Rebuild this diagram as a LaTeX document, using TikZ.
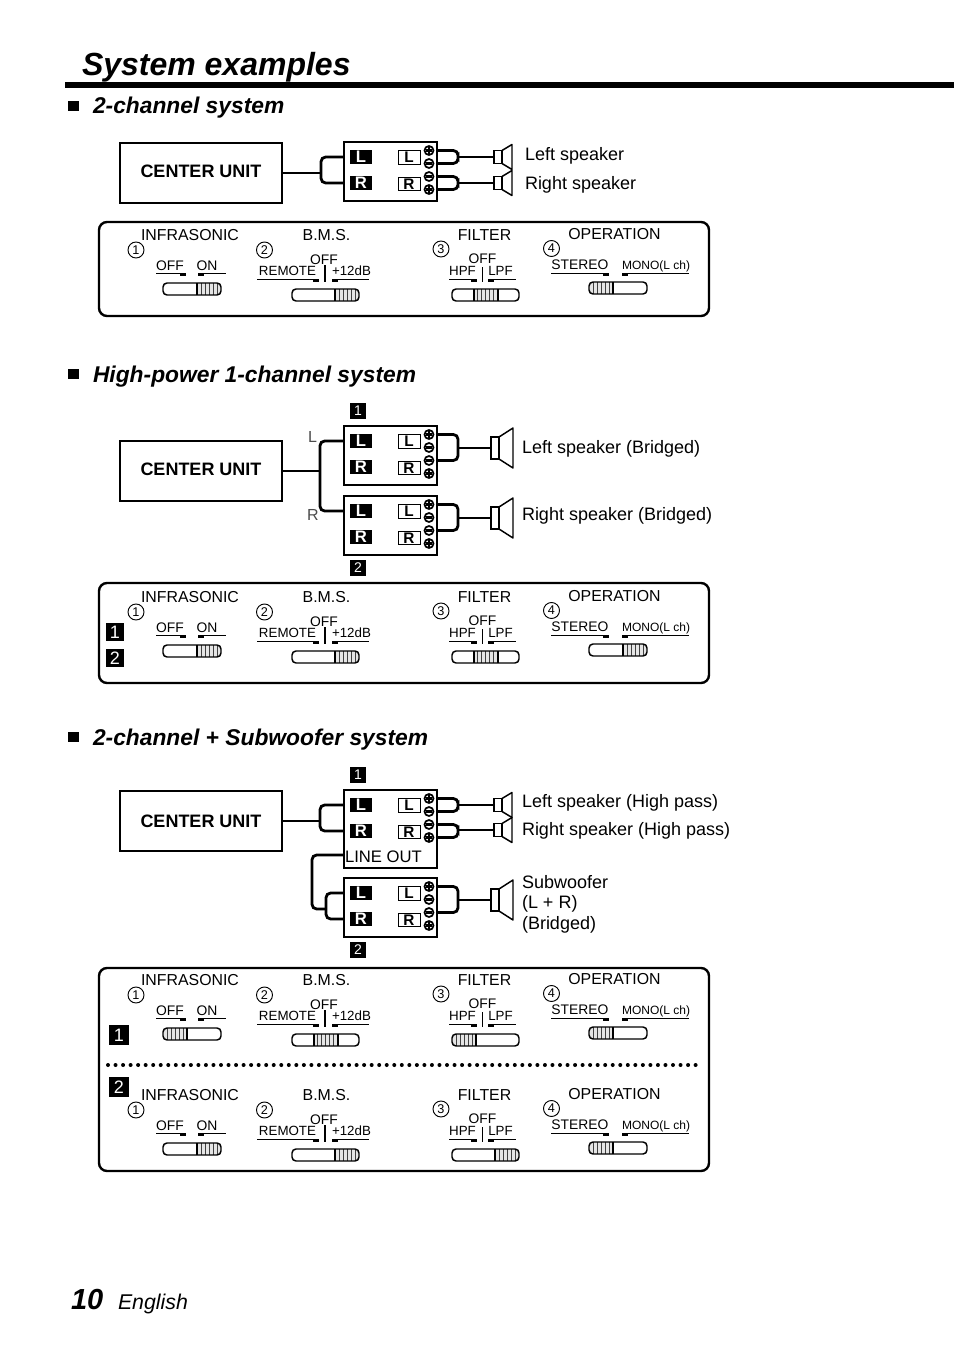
\documentclass[tikz,border=0pt]{standalone}
\usepackage{fontspec}
\setmainfont{Liberation Sans}

\tikzset{
  every node/.style={inner sep=0pt,outer sep=0pt},
  title/.style={anchor=base west,font=\bfseries\itshape\fontsize{24}{28}\selectfont},
  heading/.style={anchor=base west,font=\bfseries\itshape\fontsize{17.1}{20}\selectfont},
  spklabel/.style={anchor=base west,font=\fontsize{13.5}{15.4}\selectfont},
  unitbox/.style={draw,line width=1pt,minimum width=162*.75pt,minimum height=60*.75pt,font=\bfseries\fontsize{13.5}{16}\selectfont},
  ampbody/.style={draw,line width=1.4pt,anchor=north west,minimum width=93*.75pt},
  chanblack/.style={fill=black,text=white,minimum width=22*.75pt,minimum height=14*.75pt,font=\bfseries\fontsize{12.5}{13}\selectfont},
  chanwhite/.style={draw,line width=.7pt,minimum width=22*.75pt,minimum height=13.5*.75pt,font=\bfseries\fontsize{11.5}{12}\selectfont},
  term/.style={circle,draw,line width=1.3pt,minimum size=9*.75pt},
  badge/.style={fill=black,text=white,minimum size=16*.75pt,font=\fontsize{10.5}{11}\selectfont},
  bigbadge/.style={badge,minimum size=18*.75pt,font=\fontsize{13.5}{14}\selectfont},
  wire/.style={line width=2.1pt,rounded corners=3.5pt},
  spkbox/.style={draw,line width=1.1pt,minimum width=8*.75pt},
  panel/.style={draw,line width=1.8pt,rounded corners=6pt},
  pnlbig/.style={anchor=base,font=\fontsize{11.9}{13}\selectfont},
  pnlmid/.style={anchor=base,font=\fontsize{10.4}{12}\selectfont},
  pnlsmall/.style={anchor=base,font=\fontsize{10}{12}\selectfont},
  circnum/.style={circle,draw,line width=.7pt,minimum size=16*.75pt,font=\fontsize{9.5}{10}\selectfont},
  swbody/.style={draw,line width=1.1pt,rounded corners=3pt}
}

\newcommand{\ampunit}[3]{
  \node[ampbody,minimum height=#3*.75pt] (#1) at (344,#2) {};
  \node[chanblack] (#1bL) at (361,#2+15) {L};
  \node[chanblack] (#1bR) at (361,#2+41) {R};
  \node[chanwhite] (#1wL) at (409,#2+15.5) {L};
  \node[chanwhite] (#1wR) at (409,#2+42) {R};
  \node[term] (#1t1) at (429,#2+8.5) {};
  \node[term] (#1t2) at (429,#2+21.5) {};
  \node[term] (#1t3) at (429,#2+34.5) {};
  \node[term] (#1t4) at (429,#2+47.5) {};
  \foreach \t in {1,2,3,4}
    \draw[line width=1.8pt] ([xshift=-2.6pt]#1t\t.center) -- ([xshift=2.6pt]#1t\t.center);
  \foreach \t in {1,4}
    \draw[line width=1.8pt] ([yshift=-2.6pt]#1t\t.center) -- ([yshift=2.6pt]#1t\t.center);
}

\newcommand{\spkr}[6]{
  \node[spkbox,anchor=west,minimum height=#4*.75pt] (#1) at (#2,#3) {};
  \draw[line width=1.1pt,line join=round] (#1.north east) -- ++(#5,-#6) -- ++(0,#4+2*#6) -- (#1.south east);
}

\newcommand{\slideswitch}[4]{
  \pgfmathsetmacro{\hx}{#1+(#2-#1-24)*#4/2}
  \begin{scope}
    \clip[rounded corners=3pt] (#1,#3) rectangle (#2,#3+12);
    \fill[black!10] (\hx,#3) rectangle (\hx+24,#3+12);
    \foreach \i in {4,8,...,20}
      \draw[line width=.55pt,black!75] (\hx+\i,#3) -- (\hx+\i,#3+12);
    \ifnum#4<2 \draw[line width=1.5pt] (\hx+24,#3) -- (\hx+24,#3+12); \fi
    \ifnum#4>0 \draw[line width=1.5pt] (\hx,#3) -- (\hx,#3+12); \fi
  \end{scope}
  \draw[swbody] (#1,#3) rectangle (#2,#3+12);
}

\newcommand{\ctlpanel}[6]{
  \begin{scope}[yshift=-#2*.75pt]
    \node[pnlbig] (#1infra) at (190,240) {INFRASONIC};
    \node[pnlbig] (#1bms) at (326.5,240) {B.M.S.};
    \node[pnlbig] (#1filter) at (484.5,240) {FILTER};
    \node[pnlbig] (#1oper) at (614.5,239) {OPERATION};
    \node[circnum] (#1n1) at (136,250) {1};
    \node[circnum] (#1n2) at (264.5,250) {2};
    \node[circnum] (#1n3) at (441,249) {3};
    \node[circnum] (#1n4) at (551.5,248.5) {4};
    \node[pnlmid] (#1off1) at (170,270.5) {OFF};
    \node[pnlmid] (#1on) at (207,270) {ON};
    \node[pnlsmall] (#1rem) at (287.5,275.5) {REMOTE};
    \node[pnlmid] (#1off2) at (324,264) {OFF};
    \node[pnlsmall] (#1db) at (351.5,275) {+12dB};
    \node[pnlmid] (#1off3) at (482.5,263) {OFF};
    \node[pnlsmall] (#1hpf) at (462.5,275) {HPF};
    \node[pnlsmall] (#1lpf) at (500.5,275) {LPF};
    \node[pnlmid] (#1st) at (580,269.5) {STEREO};
    \node[pnlsmall,font=\fontsize{9}{10}\selectfont] (#1mono) at (656,269) {MONO(L ch)};
    \foreach \lx/\rx/\tx/\ly in {156/186/180/273, 198/226/198/273, 257/318/313/279, 332/369/332/279, 449/477/471/279, 488/516/488/279, 551/609/603/273, 622/689/622/273} {
      \draw[line width=.75pt] (\lx,\ly) -- (\rx,\ly);
      \fill (\tx,\ly) rectangle (\tx+6,\ly+3);
    }
    \draw[line width=.8pt] (325,265) -- (325,282);
    \draw[line width=1.3pt] (482.5,267) -- (482.5,282);
    \slideswitch{163}{221}{283}{#3}
    \slideswitch{292}{359}{289}{#4}
    \slideswitch{452}{519}{289}{#5}
    \slideswitch{589}{647}{282}{#6}
  \end{scope}
}

\begin{document}
\begin{tikzpicture}[x=.75pt,y=-.75pt]
  \useasboundingbox (0,0) rectangle (954,1352);

  \node[title] (ttl) at (82,76) {System examples};
  \fill (65,82) rectangle (954,88);

  \foreach \yy/\nm/\txt in {114/hdA/2-channel system, 382/hdB/High-power 1-channel system, 745/hdC/2-channel + Subwoofer system} {
    \fill (68,\yy-13) rectangle (79,\yy-3);
    \node[heading] (\nm) at (93,\yy) {\txt};
  }

  % 2-channel
  \node[unitbox,text depth=2.5pt] (cuA) at (201,173) {CENTER UNIT};
  \ampunit{ampA}{142}{59}
  \spkr{spkAl}{494}{157}{13}{10}{6}
  \spkr{spkAr}{494}{183}{13}{10}{6}
  \coordinate (jA) at (321,0 |- cuA.east);
  \coordinate (jAl) at (458,157);
  \coordinate (jAr) at (458,183);
  \draw[wire] (cuA.east) -- (jA);
  \draw[wire] (ampA.west |- ampAbL) -| (jA) |- (ampA.west |- ampAbR);
  \draw[wire] (ampA.east |- ampAt1) -| (jAl) |- (ampA.east |- ampAt2);
  \draw[wire] (ampA.east |- ampAt3) -| (jAr) |- (ampA.east |- ampAt4);
  \draw[wire] (jAl) -- (spkAl.west);
  \draw[wire] (jAr) -- (spkAr.west);
  \node[spklabel] (lblAl) at (525,161) {Left speaker};
  \node[spklabel] (lblAr) at (525,190) {Right speaker};
  \draw[panel] (99,222) rectangle (709,316);
  \ctlpanel{pA}{0}{2}{2}{1}{0}

  % high-power 1-channel
  \node[unitbox,text depth=2.5pt] (cuB) at (201,471) {CENTER UNIT};
  \ampunit{ampBa}{426}{59}
  \ampunit{ampBb}{496}{59}
  \node[badge] (bdgBa) at (358,411) {1};
  \node[badge] (bdgBb) at (358,568) {2};
  \node[spklabel,text=black!70,font=\fontsize{12}{14}\selectfont] (lblL) at (308,442) {L};
  \node[spklabel,text=black!70,font=\fontsize{12}{14}\selectfont] (lblR) at (307,520) {R};
  \spkr{spkBa}{491}{448}{22}{14}{9}
  \spkr{spkBb}{491}{518}{22}{14}{9}
  \coordinate (jB) at (320,0 |- cuB.east);
  \coordinate (jBa) at (458,448);
  \coordinate (jBb) at (458,518);
  \draw[wire] (cuB.east) -- (jB);
  \draw[wire] (ampBa.west |- ampBabL) -| (jB) |- (ampBb.west |- ampBbbL);
  \draw[wire] (ampBa.east |- ampBat1) -| (jBa) |- (ampBa.east |- ampBat3);
  \draw[wire] (ampBb.east |- ampBbt1) -| (jBb) |- (ampBb.east |- ampBbt3);
  \draw[wire] (jBa) -- (spkBa.west);
  \draw[wire] (jBb) -- (spkBb.west);
  \node[spklabel] (lblBa) at (522,453) {Left speaker (Bridged)};
  \node[spklabel] (lblBb) at (522,520) {Right speaker (Bridged)};
  \draw[panel] (99,583) rectangle (709,683);
  \node[bigbadge] (bdgPa) at (115,632) {1};
  \node[bigbadge] (bdgPb) at (115,658) {2};
  \ctlpanel{pB}{362}{2}{2}{1}{2}

  % 2-channel + subwoofer
  \node[unitbox] (cuC) at (201,821) {CENTER UNIT};
  \ampunit{ampCa}{790}{78}
  \ampunit{ampCb}{878}{59}
  \node[badge] (bdgCa) at (358,775) {1};
  \node[badge] (bdgCb) at (358,950) {2};
  \node[anchor=base west,font=\fontsize{12.5}{14}\selectfont] (lnout) at (345,862) {LINE OUT};
  \spkr{spkCl}{494}{805}{13}{10}{6}
  \spkr{spkCr}{494}{830}{13}{10}{6}
  \spkr{spkCs}{491}{900}{22}{14}{9}
  \coordinate (jC) at (320,0 |- cuC.east);
  \coordinate (jCl) at (458,805);
  \coordinate (jCr) at (458,830);
  \coordinate (jCs) at (458,900);
  \coordinate (jCb) at (326,909);
  \draw[wire] (cuC.east) -- (jC);
  \draw[wire] (ampCa.west |- ampCabL) -| (jC) |- (ampCa.west |- ampCabR);
  \draw[wire] (ampCb.west |- ampCbbL) -| (jCb) |- (ampCb.west |- ampCbbR);
  \draw[wire] (ampCa.west |- 0,855) -| (312,880) |- (jCb);
  \draw[wire] (ampCa.east |- ampCat1) -| (jCl) |- (ampCa.east |- ampCat2);
  \draw[wire] (ampCa.east |- ampCat3) -| (jCr) |- (ampCa.east |- ampCat4);
  \draw[wire] (ampCb.east |- ampCbt1) -| (jCs) |- (ampCb.east |- ampCbt3);
  \foreach \from/\to in {jCl/spkCl,jCr/spkCr,jCs/spkCs}
    \draw[wire] (\from) -- (\to.west);
  \node[spklabel] (lblCl) at (522,807) {Left speaker (High pass)};
  \node[spklabel] (lblCr) at (522,835) {Right speaker (High pass)};
  \node[spklabel] (lblCa) at (522,888) {Subwoofer};
  \node[spklabel] (lblCb) at (522,908) {(L + R)};
  \node[spklabel] (lblCc) at (522,929) {(Bridged)};
  \draw[panel] (99,968) rectangle (709,1171);
  \node[bigbadge,minimum size=20*.75pt] (bdgQa) at (119,1035) {1};
  \node[bigbadge,minimum size=20*.75pt] (bdgQb) at (119,1087) {2};
  \draw[line width=3pt,line cap=round,dash pattern=on 0pt off 5.65pt] (108,1065) -- (698,1065);
  \ctlpanel{pC}{745}{0}{1}{0}{0}
  \ctlpanel{pD}{860}{2}{2}{2}{0}

  \node[anchor=base west,font=\bfseries\itshape\fontsize{21.75}{24}\selectfont] (pgno) at (71,1309) {10};
  \node[anchor=base west,font=\itshape\fontsize{16}{18}\selectfont] (lang) at (118,1309) {English};
\end{tikzpicture}
\end{document}
